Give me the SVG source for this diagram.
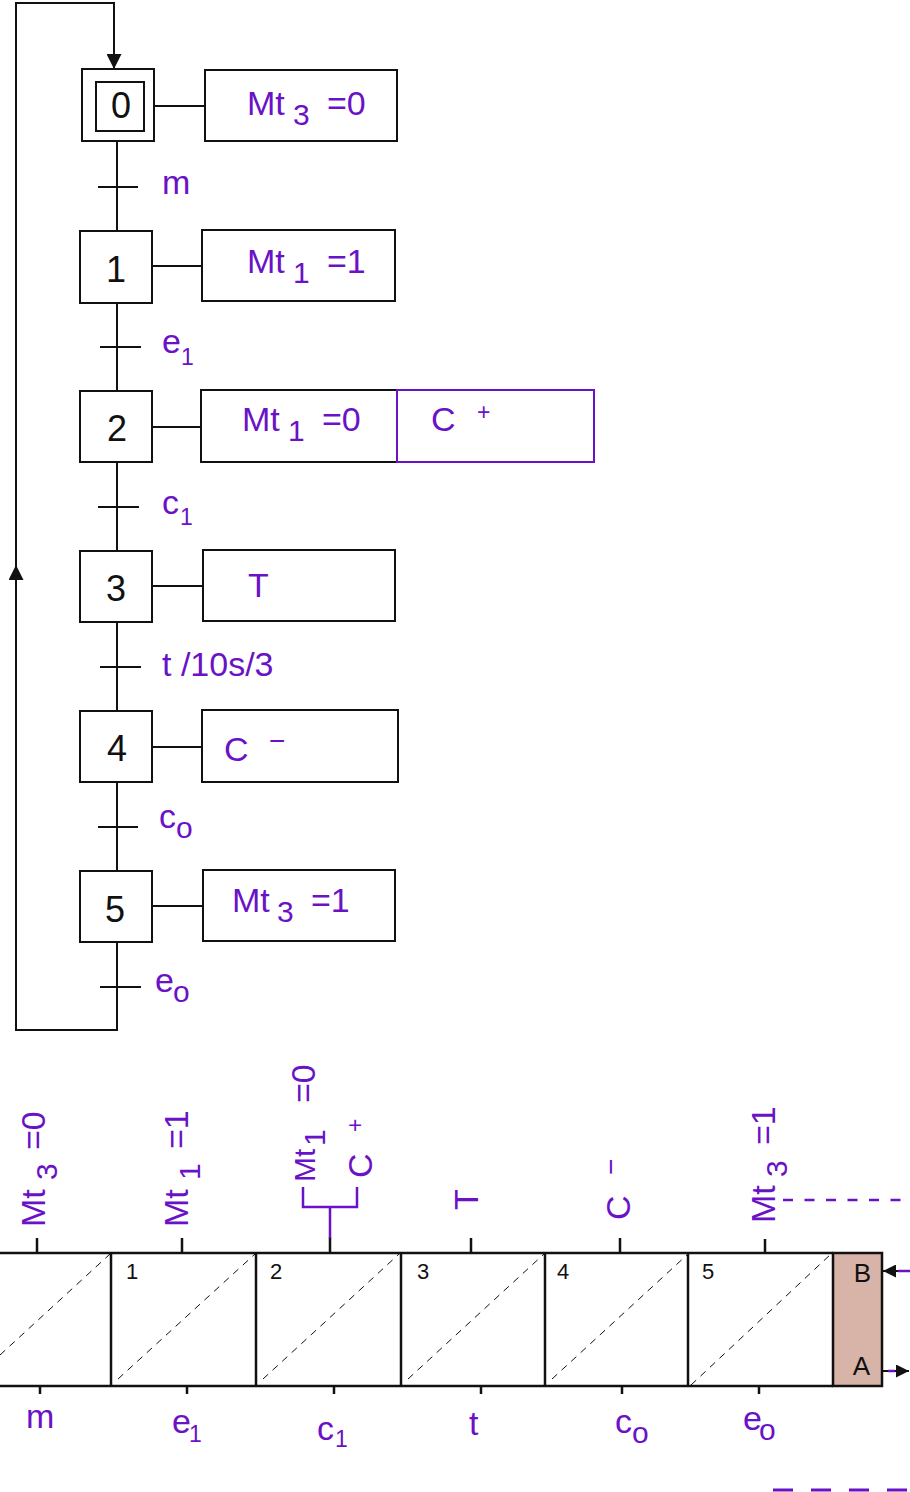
<svg xmlns="http://www.w3.org/2000/svg" width="910" height="1492" viewBox="0 0 910 1492">
<style>
text{font-family:"Liberation Sans",Arial,sans-serif}
.p{fill:#6a12c6}
.k{fill:#111}
.main{font-size:34px}
.sub{font-size:30px}
.sm{font-size:23px}
.mn{font-size:28px}
.num{font-size:36px;text-anchor:middle}
.cell{font-size:22px}
.ln{stroke:#111;stroke-width:2;fill:none}
.box{stroke:#111;stroke-width:2;fill:#fff}
.tb{stroke:#111;stroke-width:2.5;fill:none}
.dg{stroke:#111;stroke-width:1;stroke-dasharray:7 6;fill:none}
.pl{stroke:#6a12c6;stroke-width:2.5;fill:none}
</style>
<defs>
<marker id="arr" viewBox="0 0 10 10" refX="10" refY="5" markerUnits="userSpaceOnUse" markerWidth="16" markerHeight="15" orient="auto"><path d="M0,0 L10,5 L0,10 z" fill="#111"/></marker>
<marker id="arrL" viewBox="0 0 10 10" refX="10" refY="5" markerUnits="userSpaceOnUse" markerWidth="23" markerHeight="15" orient="auto"><path d="M0,0 L10,5 L0,10 z" fill="#111"/></marker>
<marker id="arrS" viewBox="0 0 10 10" refX="10" refY="5" markerUnits="userSpaceOnUse" markerWidth="17" markerHeight="13" orient="auto"><path d="M0,0 L10,5 L0,10 z" fill="#111"/></marker>
</defs>
<rect width="910" height="1492" fill="#fff"/>

<g id="connectors">
<path class="ln" d="M117,942 V1030 H16 V3 H114 V69" marker-end="url(#arr)"/>
<path class="ln" d="M16,600 V565" marker-end="url(#arrL)"/>
<path class="ln" d="M117,141 V231 M117,303 V391 M117,462 V551 M117,622 V710 M117,782 V871"/>
<path class="ln" d="M98,187 H138 M100,347 H141 M98,507 H139 M100,667 H141 M98,827 H138 M100,987 H141"/>
<path class="ln" d="M154,106 H205 M152,266 H202 M152,427 H201 M152,586 H203 M152,747 H202 M152,906 H203"/>
</g>

<g id="step0">
<rect class="box" x="82" y="69" width="72" height="72"/>
<rect class="box" x="96" y="82" width="48" height="49"/>
<text class="num k" x="121" y="118">0</text>
</g>
<g id="action0">
<rect class="box" x="205" y="70" width="192" height="71"/>
<text class="main p" x="247" y="115">Mt<tspan class="sub" x="293" y="125">3</tspan><tspan x="327" y="115">=0</tspan></text>
</g>
<g id="trans_m"><text class="main p" x="162" y="194">m</text></g>

<g id="step1">
<rect class="box" x="80" y="231" width="72" height="72"/>
<text class="num k" x="116" y="282">1</text>
</g>
<g id="action1">
<rect class="box" x="202" y="230" width="193" height="71"/>
<text class="main p" x="247" y="273">Mt<tspan class="sub" x="293" y="283">1</tspan><tspan x="327" y="273">=1</tspan></text>
</g>
<g id="trans_e1"><text class="main p" x="162" y="353">e<tspan class="sm" x="181" y="365">1</tspan></text></g>

<g id="step2">
<rect class="box" x="80" y="391" width="72" height="71"/>
<text class="num k" x="117" y="441">2</text>
</g>
<g id="action2">
<rect class="box" x="201" y="390" width="196" height="72"/>
<text class="main p" x="242" y="431">Mt<tspan class="sub" x="288" y="441">1</tspan><tspan x="322" y="431">=0</tspan></text>
<rect x="397" y="390" width="197" height="72" fill="#fff" stroke="#6a12c6" stroke-width="2"/>
<text class="main p" x="431" y="431">C<tspan class="sm" x="477" y="420">+</tspan></text>
</g>
<g id="trans_c1"><text class="main p" x="162" y="514">c<tspan class="sm" x="180" y="525">1</tspan></text></g>

<g id="step3">
<rect class="box" x="80" y="551" width="72" height="71"/>
<text class="num k" x="116" y="601">3</text>
</g>
<g id="action3">
<rect class="box" x="203" y="550" width="192" height="71"/>
<text class="main p" x="248" y="597">T</text>
</g>
<g id="trans_t"><text class="main p" x="162" y="676">t /10s/3</text></g>

<g id="step4">
<rect class="box" x="80" y="711" width="72" height="71"/>
<text class="num k" x="117" y="761">4</text>
</g>
<g id="action4">
<rect class="box" x="202" y="710" width="196" height="72"/>
<text class="main p" x="224" y="761">C<tspan class="mn" x="269" y="750">−</tspan></text>
</g>
<g id="trans_co"><text class="main p" x="159" y="828">c<tspan class="sub" x="176" y="838">o</tspan></text></g>

<g id="step5">
<rect class="box" x="80" y="871" width="72" height="71"/>
<text class="num k" x="115" y="922">5</text>
</g>
<g id="action5">
<rect class="box" x="203" y="870" width="192" height="71"/>
<text class="main p" x="232" y="912">Mt<tspan class="sub" x="277" y="922">3</tspan><tspan x="311" y="912">=1</tspan></text>
</g>
<g id="trans_eo"><text class="main p" x="155" y="992">e<tspan class="sub" x="173" y="1002">o</tspan></text></g>

<g id="chart">
<rect x="833" y="1253" width="49" height="133" fill="#d8b3a7" stroke="#111" stroke-width="2.5"/>
<path class="tb" d="M0,1253 H833 M0,1386 H833 M111,1253 V1386 M256,1253 V1386 M401,1253 V1386 M545,1253 V1386 M688,1253 V1386"/>
<path class="dg" d="M0,1355 L110,1254 M118,1379 L255,1254 M263,1379 L399,1254 M408,1379 L544,1254 M552,1379 L688,1254 M691,1385 L831,1254"/>
<path class="tb" d="M37,1238 V1253 M182,1238 V1253 M330,1237 V1253 M471,1238 V1253 M620,1238 V1253 M765,1239 V1253"/>
<path class="tb" d="M40,1386 V1394 M187,1386 V1394 M334,1386 V1394 M481,1386 V1394 M622,1386 V1394 M759,1386 V1394"/>
<text class="cell k" x="126" y="1279">1</text>
<text class="cell k" x="270" y="1279">2</text>
<text class="cell k" x="417" y="1279">3</text>
<text class="cell k" x="557" y="1279">4</text>
<text class="cell k" x="702" y="1279">5</text>
<text class="k" x="871" y="1282" font-size="26" text-anchor="end">B</text>
<text class="k" x="870" y="1375" font-size="26" text-anchor="end">A</text>
<path class="ln" d="M905,1271 H883" marker-end="url(#arrS)"/>
<path class="pl" d="M898,1271 H910"/>
<path class="ln" d="M882,1371 H909" marker-end="url(#arrS)"/>
<path class="pl" d="M888,1371 H895"/>
<path stroke="#6a12c6" stroke-width="2.5" fill="none" stroke-dasharray="10 11.5" d="M783,1200 H910"/>
<path stroke="#6a12c6" stroke-width="3" fill="none" stroke-dasharray="20 18" d="M773,1490 H910"/>
<path class="pl" d="M303,1187 V1207 H357 V1187 M330,1207 V1238"/>
</g>

<g id="chart_labels_top">
<text class="main p" transform="translate(45,1227) rotate(-90)">Mt<tspan class="sub" x="47" y="12">3</tspan><tspan x="77" y="0">=0</tspan></text>
<text class="main p" transform="translate(188,1227) rotate(-90)">Mt<tspan class="sub" x="47" y="12">1</tspan><tspan x="78" y="0">=1</tspan></text>
<text class="p" font-size="30" transform="translate(315,1182) rotate(-90)">Mt<tspan x="36" y="10">1</tspan><tspan x="79" y="0" font-size="34">=0</tspan></text>
<text class="main p" transform="translate(372,1178) rotate(-90)">C<tspan class="sm" x="46" y="-9">+</tspan></text>
<text class="main p" transform="translate(478,1210) rotate(-90)">T</text>
<text class="main p" transform="translate(630,1220) rotate(-90)">C<tspan class="mn" x="45" y="-10">−</tspan></text>
<text class="main p" transform="translate(775,1223) rotate(-90)">Mt<tspan class="sub" x="46" y="12">3</tspan><tspan x="78" y="0">=1</tspan></text>
</g>

<g id="chart_labels_bottom">
<text class="main p" x="26" y="1428">m</text>
<text class="main p" x="172" y="1433">e<tspan class="sm" x="189" y="1442">1</tspan></text>
<text class="main p" x="317" y="1440">c<tspan class="sm" x="335" y="1447">1</tspan></text>
<text class="main p" x="469" y="1435">t</text>
<text class="main p" x="615" y="1433">c<tspan class="sub" x="632" y="1443">o</tspan></text>
<text class="main p" x="743" y="1430">e<tspan class="sub" x="759" y="1440">o</tspan></text>
</g>
</svg>
